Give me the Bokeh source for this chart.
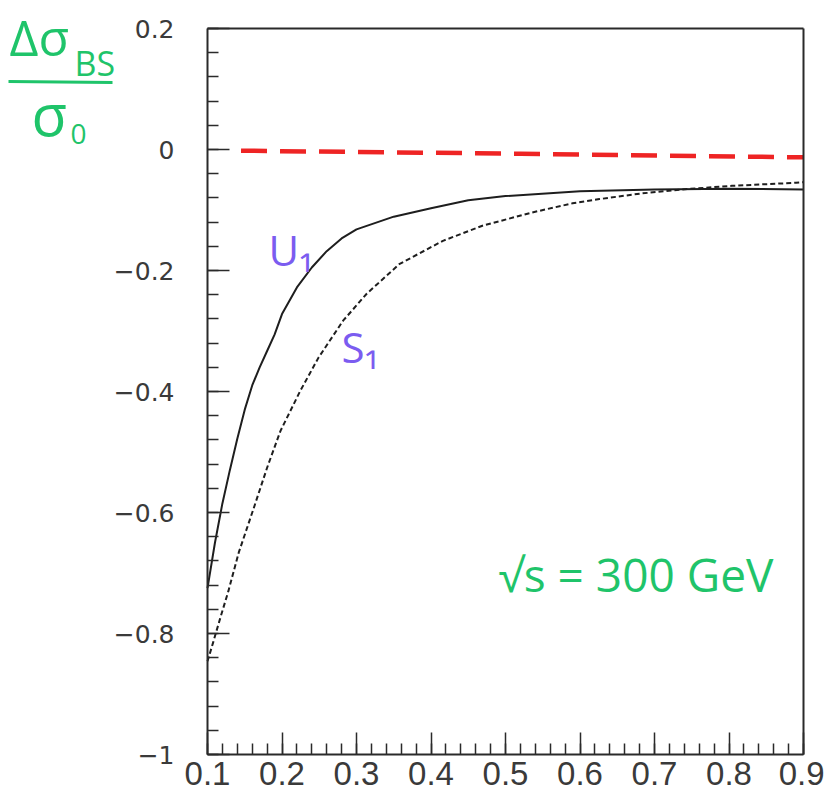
from bokeh.plotting import figure
from bokeh.models import (Range1d, FixedTicker, CustomJSTickFormatter, Label,
                          Arrow, LinearAxis)
from bokeh.embed import file_html
from bokeh.resources import INLINE
import numpy as np

# ---- data ----
u1_x = [0.10, 0.11, 0.12, 0.13, 0.14, 0.15, 0.16, 0.17, 0.18, 0.19, 0.20, 0.22,
        0.24, 0.26, 0.28, 0.30, 0.35, 0.40, 0.45, 0.50, 0.60, 0.70, 0.80, 0.90]
u1_y = [-0.725, -0.650, -0.585, -0.530, -0.478, -0.430, -0.390, -0.360, -0.333,
        -0.306, -0.272, -0.228, -0.195, -0.168, -0.147, -0.132, -0.111, -0.097,
        -0.084, -0.077, -0.069, -0.066, -0.065, -0.066]

s1_x = [0.100, 0.108, 0.117, 0.128, 0.142, 0.162, 0.180, 0.198, 0.2245, 0.249,
        0.282, 0.314, 0.358, 0.416, 0.469, 0.536, 0.590, 0.626, 0.680, 0.737,
        0.804, 0.890, 0.900]
s1_y = [-0.846, -0.813, -0.775, -0.730, -0.666, -0.593, -0.526, -0.465, -0.399,
        -0.344, -0.283, -0.238, -0.189, -0.151, -0.126, -0.104, -0.089, -0.082,
        -0.073, -0.066, -0.060, -0.055, -0.054]

red_x = [0.145, 0.52, 0.90]
red_y = [-0.002, -0.007, -0.013]

x_ticks = [0.1, 0.2, 0.3, 0.4, 0.5, 0.6, 0.7, 0.8, 0.9]
y_ticks = [-1.0, -0.8, -0.6, -0.4, -0.2, 0.0, 0.2]
X_MIN, X_MAX = 0.1, 0.9
Y_MIN, Y_MAX = -1.0, 0.2

# ---- geometry: the frame covers the whole canvas, axes sit at fixed locations ----
W, H = 824, 810
BOX_L, BOX_R, BOX_T, BOX_B = 207, 803, 28, 754   # pixel box of the plotted area
kx = (BOX_R - BOX_L) / (X_MAX - X_MIN)
ky = (BOX_B - BOX_T) / (Y_MAX - Y_MIN)
x0 = X_MIN - BOX_L / kx
x1 = X_MAX + (W - BOX_R) / kx
y1 = Y_MAX + BOX_T / ky
y0 = Y_MIN - (H - BOX_B) / ky

p = figure(width=W, height=H, output_backend="svg", toolbar_location=None,
           x_range=Range1d(x0, x1), y_range=Range1d(y0, y1),
           min_border=0)
p.background_fill_color = "white"
p.border_fill_color = "white"
p.grid.visible = False
p.outline_line_color = None

x_minor = [round(v, 3) for v in np.arange(X_MIN, X_MAX + 1e-6, 0.02)]
y_minor = [round(v, 3) for v in np.arange(Y_MIN, Y_MAX + 1e-6, 0.04)]

xa = p.xaxis[0]
ya = p.yaxis[0]
xa.ticker = FixedTicker(ticks=x_ticks, minor_ticks=x_minor)
ya.ticker = FixedTicker(ticks=y_ticks, minor_ticks=y_minor)
xa.bounds = (X_MIN, X_MAX)
ya.bounds = (Y_MIN, Y_MAX)
xa.fixed_location = Y_MIN
ya.fixed_location = X_MIN

xa.formatter = CustomJSTickFormatter(code="return tick.toFixed(1);")
ya.formatter = CustomJSTickFormatter(code="""
if (Math.abs(tick) < 1e-9) return "0";
var s = Math.abs(tick).toFixed(1).replace(/\\.0$/, "");
return (tick < 0 ? "\\u2212" : "") + s;
""")

frame_col = "#2a2a2a"
for ax in (xa, ya):
    ax.axis_line_color = frame_col
    ax.axis_line_width = 2
    ax.major_tick_line_color = frame_col
    ax.minor_tick_line_color = frame_col
    ax.major_tick_line_width = 1.5
    ax.minor_tick_line_width = 1.5
    ax.major_tick_in = 22
    ax.major_tick_out = 0
    ax.minor_tick_in = 11
    ax.minor_tick_out = 0
    ax.major_label_text_color = "#3a3a3a"
ya.major_label_text_font = "DejaVu Sans"
ya.major_label_text_font_size = "25px"
ya.major_label_standoff = 33
xa.major_label_text_font = "Liberation Sans"
xa.major_label_text_font_size = "33px"
xa.major_label_standoff = 7

# top and right frame lines (plain axes without ticks or labels)
top = LinearAxis(fixed_location=Y_MAX, bounds=(X_MIN, X_MAX))
right = LinearAxis(fixed_location=X_MAX, bounds=(Y_MIN, Y_MAX))
for ax in (top, right):
    ax.axis_line_color = frame_col
    ax.axis_line_width = 2
    ax.major_tick_line_color = None
    ax.minor_tick_line_color = None
    ax.major_label_text_font_size = "0px"
    ax.major_label_text_color = None
p.add_layout(top, "above")
p.add_layout(right, "right")

# ---- curves ----
p.line(red_x, red_y, line_color="#ee2424", line_width=4.5, line_dash="26 13")
p.line(u1_x, u1_y, line_color="#1e1e1e", line_width=2)
p.line(s1_x, s1_y, line_color="#1e1e1e", line_width=2, line_dash="5 3")

# ---- annotations (pixel positions converted to data) ----
def dx(px):
    return x0 + px / kx

def dy(py):
    return y1 - py / ky

green = "#1fc46a"
purple = "#7b5cf0"

def lab(px, py_base, text, size, color, font="Open Sans"):
    fs = float(size.replace("px", ""))
    p.add_layout(Label(x=dx(px), y=dy(py_base - 0.43 * fs), text=text,
                       text_font=font, text_font_size=size, text_color=color,
                       text_baseline="alphabetic", text_align="left"))

lab(9, 58, "Δσ", "50px", green)
lab(74, 77, "BS", "34px", green)
p.add_layout(Arrow(x_start=dx(8), y_start=dy(81), x_end=dx(112), y_end=dy(82),
                   end=None, line_color=green, line_width=3))
lab(31, 138, "σ", "58px", green)
lab(70, 146, "0", "28px", green)

lab(268, 267, "U₁", "42px", purple)
lab(341, 364, "S₁", "42px", purple)

lab(498, 593, "√s = 300 GeV", "46px", green)

open("out.html", "w").write(file_html(p, INLINE))
